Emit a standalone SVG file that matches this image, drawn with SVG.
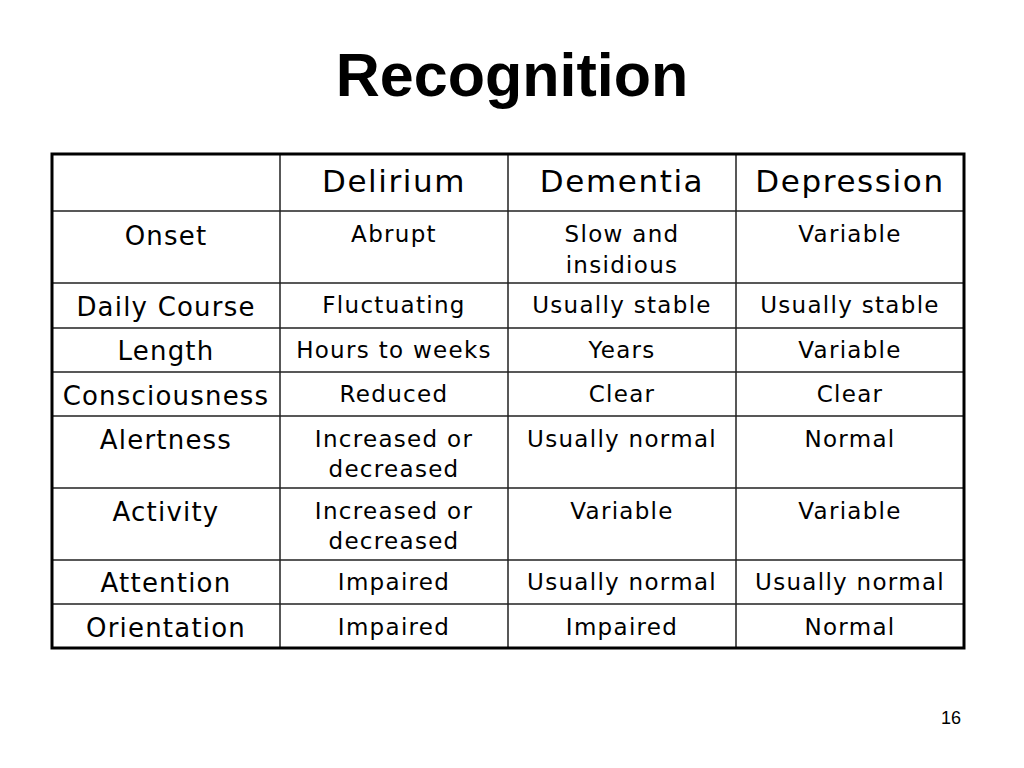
<svg xmlns="http://www.w3.org/2000/svg" width="1024" height="768" viewBox="0 0 1024 768">
<style>
.t{font-family:"DejaVu Sans",sans-serif;text-anchor:middle;fill:#000}
.h{font-size:31px;letter-spacing:1.6px}.r{font-size:26px;letter-spacing:1.2px}.c{font-size:23px;letter-spacing:1.3px}
.g{stroke:#222;stroke-width:1.5;fill:none}
</style>
<rect width="1024" height="768" fill="#fff"/>
<text x="512" y="96" font-family="Liberation Sans,Arial,sans-serif" font-weight="bold" font-size="61" text-anchor="middle">Recognition</text>
<g id="grid">
<path class="g" d="M280 154V648M508 154V648M736 154V648M52 211H964M52 283H964M52 328H964M52 372H964M52 416H964M52 488H964M52 560H964M52 604H964"/>
<rect x="52" y="154" width="912" height="494" fill="none" stroke="#000" stroke-width="3"/>
</g>
<g id="header" class="t h"><text x="394" y="192">Delirium</text><text x="622" y="192">Dementia</text><text x="850" y="192">Depression</text></g>
<g id="labels" class="t r">
<text x="166" y="245">Onset</text><text x="166" y="316">Daily Course</text><text x="166" y="360">Length</text><text x="166" y="405">Consciousness</text><text x="166" y="449">Alertness</text><text x="166" y="521">Activity</text><text x="166" y="592">Attention</text><text x="166" y="637">Orientation</text>
</g>
<g id="cells" class="t c">
<text x="394" y="242">Abrupt</text><text x="622" y="242">Slow and</text><text x="622" y="273">insidious</text><text x="850" y="242">Variable</text>
<text x="394" y="313">Fluctuating</text><text x="622" y="313">Usually stable</text><text x="850" y="313">Usually stable</text>
<text x="394" y="358">Hours to weeks</text><text x="622" y="358">Years</text><text x="850" y="358">Variable</text>
<text x="394" y="402">Reduced</text><text x="622" y="402">Clear</text><text x="850" y="402">Clear</text>
<text x="394" y="447">Increased or</text><text x="394" y="477">decreased</text><text x="622" y="447">Usually normal</text><text x="850" y="447">Normal</text>
<text x="394" y="519">Increased or</text><text x="394" y="549">decreased</text><text x="622" y="519">Variable</text><text x="850" y="519">Variable</text>
<text x="394" y="590">Impaired</text><text x="622" y="590">Usually normal</text><text x="850" y="590">Usually normal</text>
<text x="394" y="635">Impaired</text><text x="622" y="635">Impaired</text><text x="850" y="635">Normal</text>
</g>
<text x="951" y="724" font-family="Liberation Sans,Arial,sans-serif" font-size="18" text-anchor="middle">16</text>
</svg>
